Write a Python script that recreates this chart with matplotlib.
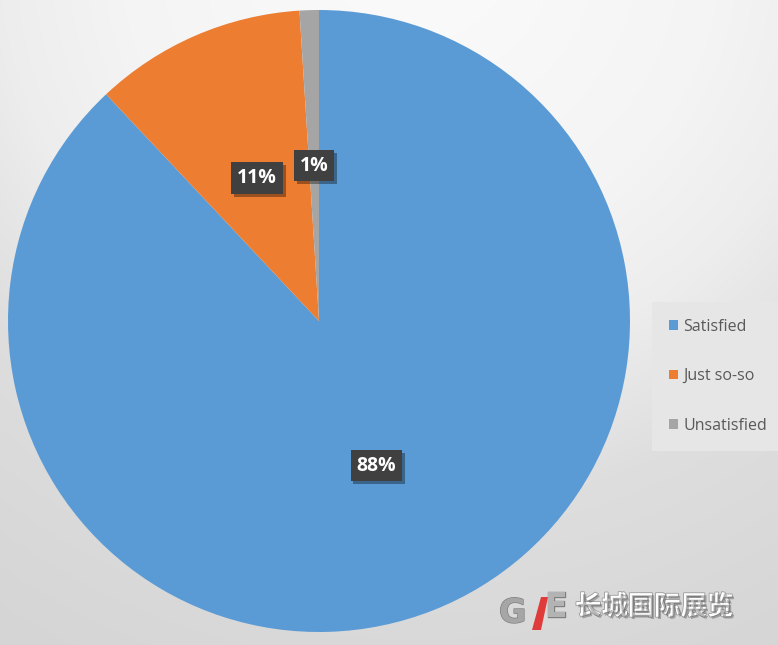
import matplotlib.pyplot as plt
import matplotlib.patheffects as pe
import numpy as np

# Data
labels = ['Satisfied', 'Just so-so', 'Unsatisfied']
shares = [88, 11, 1]
colors = ['#5B9BD5', '#ED7D31', '#A5A5A5']

W, H = 778, 645
fig = plt.figure(figsize=(W / 100, H / 100), dpi=100)

# Soft radial background, brightest above the pie
bg = fig.add_axes([0, 0, 1, 1])
yy, xx = np.mgrid[0:H, 0:W]
d = np.hypot(xx - 420, yy + 50)
shade = np.interp(d, [0, 300, 420, 560, 730, 850], [0.985, 0.957, 0.93, 0.87, 0.845, 0.83])
bg.imshow(np.dstack([shade] * 3), extent=[0, W, H, 0], aspect='auto')
bg.set_xlim(0, W)
bg.set_ylim(H, 0)
bg.axis('off')

# Pie
ax = fig.add_axes([8 / W, 13 / H, 622 / W, 622 / H])
wedges, _, autotexts = ax.pie(
    shares, colors=colors, startangle=90, counterclock=False,
    autopct='%1.0f%%', pctdistance=0.5,
    wedgeprops=dict(linewidth=0),
    textprops=dict(color='white', fontsize=14, fontweight='bold', family='Open Sans'))
ax.set_xlim(-1, 1)
ax.set_ylim(-1, 1)
ax.set_aspect('equal')

for t in autotexts:
    t.set_bbox(dict(boxstyle='square,pad=0.3', facecolor='#404040', edgecolor='none'))
    t.get_bbox_patch().set_path_effects([
        pe.SimplePatchShadow(offset=(2, -2), shadow_rgbFace='black', alpha=0.35),
        pe.Normal()])

# Legend
leg = fig.legend(wedges, labels, loc='upper left',
                 bbox_to_anchor=(652 / W, 1 - 302 / H), borderaxespad=0,
                 frameon=True, fancybox=False, facecolor='#e6e6e6', edgecolor='none',
                 framealpha=1, labelcolor='#595959',
                 handlelength=0.55, handleheight=0.55, handletextpad=0.35,
                 labelspacing=2.1, borderpad=1.05,
                 prop=dict(family='Open Sans', size=11.5))

# Watermark
fig.text(575 / W, 1 - 607 / H, '长城国际展览', family=['Noto Sans CJK SC', 'DejaVu Sans'],
         fontsize=19, fontweight='bold', color='white', va='center', ha='left',
         path_effects=[pe.withStroke(linewidth=1.2, foreground='#9a9a9a'),
                       pe.SimplePatchShadow(offset=(1.5, -1.5), alpha=0.4)])
fig.text(499 / W, 1 - 613 / H, 'G', family='DejaVu Sans', fontsize=24, fontweight='bold',
         color='#a6a6a6', va='center', ha='left',
         path_effects=[pe.withStroke(linewidth=1, foreground='#7f7f7f')])
fig.text(545 / W, 1 - 607 / H, 'E', family='DejaVu Sans', fontsize=24, fontweight='bold',
         color='#b3b3b3', va='center', ha='left',
         path_effects=[pe.withStroke(linewidth=1, foreground='#7f7f7f')])
fig.patches.append(plt.Polygon([[532 / W, 1 - 630 / H], [541 / W, 1 - 630 / H],
                                [548 / W, 1 - 597 / H], [541 / W, 1 - 597 / H]],
                               closed=True, transform=fig.transFigure,
                               facecolor='#e03b3b', edgecolor='none'))

plt.savefig('out.png', dpi=100)
